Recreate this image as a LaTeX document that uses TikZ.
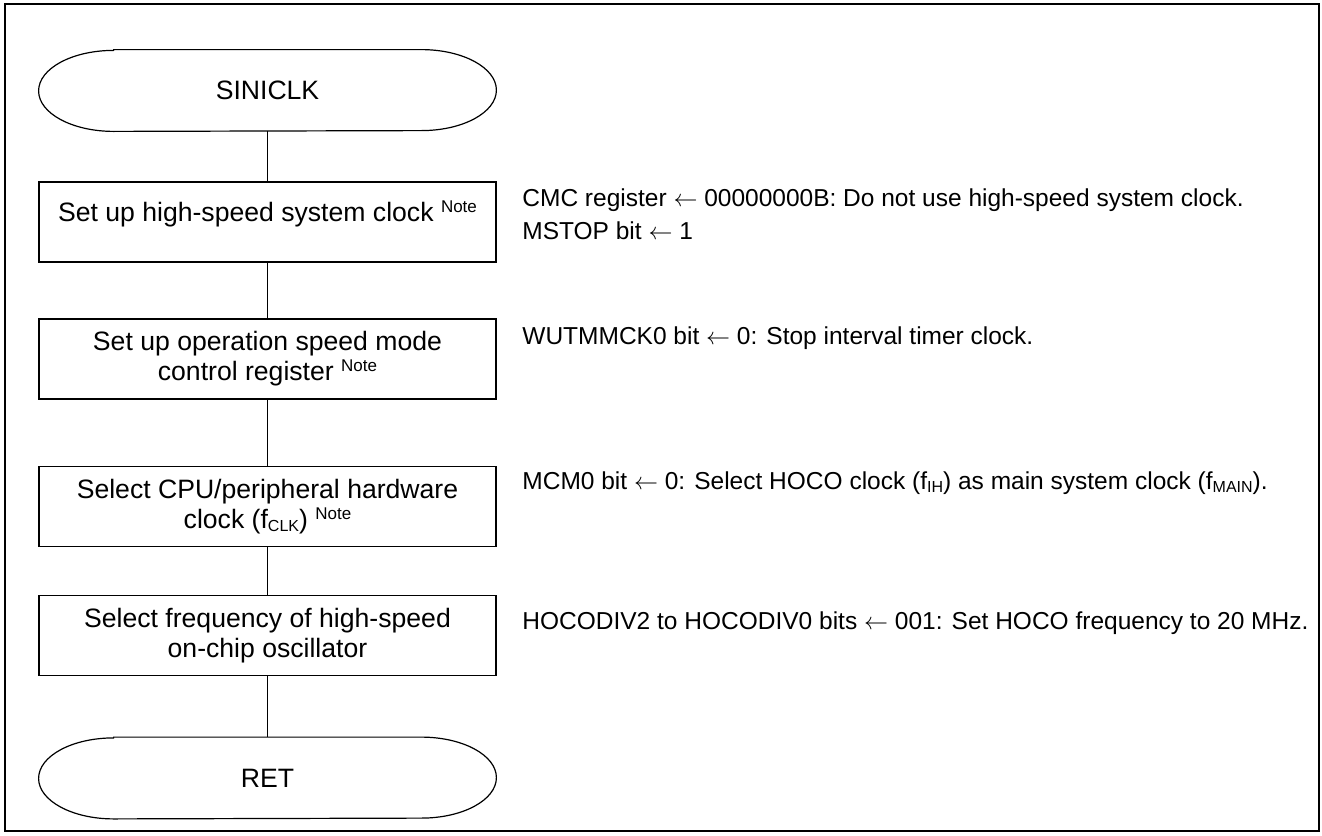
\documentclass[tikz,border=0pt]{standalone}
\usepackage{fontspec}
\setmainfont{Liberation Sans}
\usetikzlibrary{calc}
\newcommand{\notemark}{~\raisebox{4.5pt}{\fontsize{8.5}{9}\selectfont Note}}
\newcommand{\subtxt}[1]{\raisebox{-1.5pt}{\fontsize{8}{9}\selectfont #1}}
\tikzset{
  procbox/.style={draw,line width=0.8pt,minimum width=228.5pt,minimum height=40pt,
    inner sep=0pt,align=center,font=\fontsize{13.3}{15}\selectfont},
  termnode/.style={minimum width=228.5pt,minimum height=40.5pt,inner sep=0pt,
    font=\fontsize{13.3}{15}\selectfont},
  remark/.style={anchor=west,align=left,inner sep=0pt,font=\fontsize{12.25}{16.5}\selectfont},
  flowline/.style={line width=0.8pt}
}

\begin{document}
\begin{tikzpicture}[x=0.5pt,y=0.5pt]
    \useasboundingbox (0,0) rectangle (1322,-835);
    \draw[line width=1pt] (5,-4) rectangle (1319,-831);
    % flow
    \node[termnode] (start) at (267.5,-90.5) {SINICLK};
    \node[procbox,text depth=10.7pt] (clk) at (267.5,-222) {Set up high-speed system clock\notemark};
    \node[procbox] (spd) at (267.5,-359) {Set up operation speed mode\\control register\notemark};
    \node[procbox] (cpu) at (267.5,-506.5) {Select CPU/peripheral hardware\\clock (f\subtxt{CLK})\notemark};
    \node[procbox] (hoco) at (267.5,-635.5) {Select frequency of high-speed\\on-chip oscillator};
    \node[termnode] (ret) at (267.5,-778) {RET};
    \foreach \t in {start,ret}
      \draw[line width=0.6pt] ([xshift=37.5pt]\t.north west) -- ([xshift=-37.5pt]\t.north east)
        arc[start angle=90,end angle=-90,x radius=37.5pt,y radius=20.25pt]
        -- ([xshift=37.5pt]\t.south west)
        arc[start angle=270,end angle=90,x radius=37.5pt,y radius=20.25pt] -- cycle;
    \draw[flowline] (start) -- (clk);
    \draw[flowline] (clk) -- (spd);
    \draw[flowline] (spd) -- (cpu);
    \draw[flowline] (cpu) -- (hoco);
    \draw[flowline] (hoco) -- (ret);
    % remarks
    \node[remark] (nclk) at (522,-214.5) {CMC register $\leftarrow$ 00000000B: Do not use high-speed system clock.\\MSTOP bit $\leftarrow$ 1};
    \node[remark] (nspd) at (522,-338) {WUTMMCK0 bit $\leftarrow$ 0: Stop interval timer clock.};
    \node[remark] (ncpu) at (522,-483) {MCM0 bit $\leftarrow$ 0: Select HOCO clock (f\subtxt{IH}) as main system clock (f\subtxt{MAIN}).};
    \node[remark] (nhoco) at (522,-623) {HOCODIV2 to HOCODIV0 bits $\leftarrow$ 001: Set HOCO frequency to 20 MHz.};
\end{tikzpicture}
\end{document}
